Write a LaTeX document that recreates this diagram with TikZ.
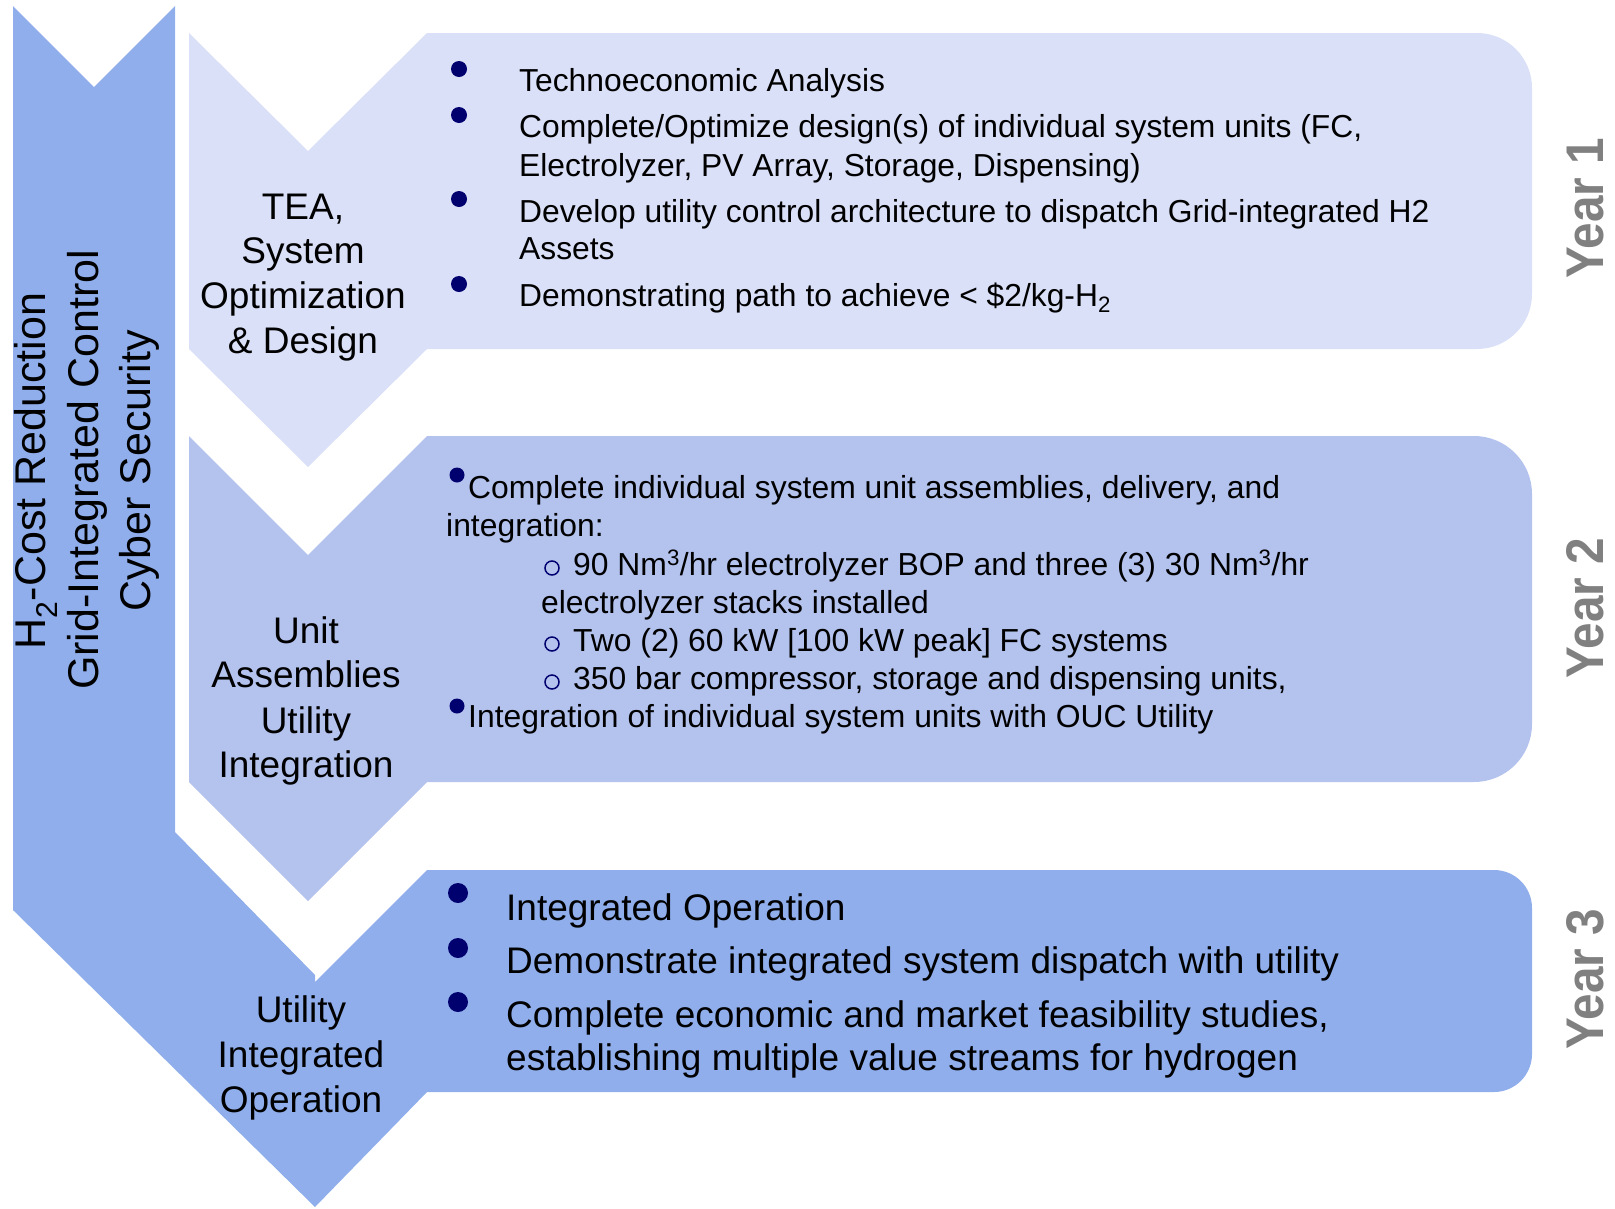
\documentclass[tikz,border=0pt]{standalone}
\usepackage{fontspec}
\setmainfont{Liberation Sans}
\newfontfamily\yearfont[FakeStretch=0.9]{Liberation Sans}
\definecolor{cone}{RGB}{218,224,247}
\definecolor{ctwo}{RGB}{180,195,238}
\definecolor{cthree}{RGB}{143,174,235}
\definecolor{navy}{RGB}{0,0,110}
\definecolor{yeargray}{RGB}{128,128,128}
\begin{document}
\begin{tikzpicture}[x=1pt,y=-1pt,
  lbl/.style={font={\fontsize{37}{44}\selectfont}, anchor=base, inner sep=0pt},
  side/.style={font={\fontsize{43}{52}\selectfont}, anchor=base, rotate=90, inner sep=0pt},
  yr/.style={font={\yearfont\bfseries\fontsize{53}{60}\selectfont}, text=yeargray, anchor=base, rotate=90, inner sep=0pt},
  ta/.style={font={\fontsize{31.8}{39}\selectfont}, anchor=base west, inner sep=0pt},
  tb/.style={font={\fontsize{31.85}{38}\selectfont}, anchor=base west, inner sep=0pt},
  tc/.style={font={\fontsize{37}{44}\selectfont}, anchor=base west, inner sep=0pt},
  bulletdot/.style={circle, fill=navy, inner sep=0pt, minimum size=#1},
  ring/.style={circle, draw=navy, line width=1.5pt, inner sep=0pt, minimum size=14pt}
]
\useasboundingbox (0,0) rectangle (1615,1208);

% Year 1 chevron + box
\fill[cone] (189,33) -- (308,151) -- (427,33) -- (1477,33)
  arc[start angle=-90,end angle=0,radius=55] -- (1532,294)
  arc[start angle=0,end angle=90,radius=55] -- (427,349) -- (308,467) -- (189,349) -- cycle;
% Year 2 chevron + box
\fill[ctwo] (189,436) -- (308,555) -- (427,436) -- (1474,436)
  arc[start angle=-90,end angle=0,radius=58] -- (1532,724)
  arc[start angle=0,end angle=90,radius=58] -- (427,782) -- (308,901) -- (189,782) -- cycle;
% Big bar + Year 3 chevron + box
\fill[cthree] (13,6) -- (94,87) -- (175,6) -- (175,832) -- (315,975) -- (315,982) -- (427,870) -- (1494,870)
  arc[start angle=-90,end angle=0,radius=38] -- (1532,1054)
  arc[start angle=0,end angle=90,radius=38] -- (427,1092) -- (315,1207) -- (13,910) -- cycle;

% Side text
\node[side] (s1) at (45,471) {H\textsubscript{2}-Cost Reduction};
\node[side] (s2) at (98,470) {Grid-Integrated Control};
\node[side] (s3) at (150,471) {Cyber Security};

% Chevron labels
\node[lbl] (l1a) at (303,219) {TEA,};
\node[lbl] (l1b) at (303,263) {System};
\node[lbl] (l1c) at (303,308) {Optimization};
\node[lbl] (l1d) at (303,353) {\& Design};

\node[lbl] (l2a) at (306,643) {Unit};
\node[lbl] (l2b) at (306,687) {Assemblies};
\node[lbl] (l2c) at (306,733) {Utility};
\node[lbl] (l2d) at (306,777) {Integration};

\node[lbl] (l3a) at (301,1022) {Utility};
\node[lbl] (l3b) at (301,1067) {Integrated};
\node[lbl] (l3c) at (301,1112) {Operation};

% Year labels
\node[yr] (y1) at (1603,208) {Year 1};
\node[yr] (y2) at (1603,608) {Year 2};
\node[yr] (y3) at (1603,979) {Year 3};

% Year 1 bullets
\node[bulletdot=16pt] (b1a) at (459,69) {};
\node[bulletdot=16pt] (b1b) at (459,115) {};
\node[bulletdot=16pt] (b1c) at (459,199) {};
\node[bulletdot=16pt] (b1d) at (459,284) {};
\node[ta] (t1a) at (519,91) {Technoeconomic Analysis};
\node[ta] (t1b) at (519,137) {Complete/Optimize design(s) of individual system units (FC,};
\node[ta] (t1c) at (519,176) {Electrolyzer, PV Array, Storage, Dispensing)};
\node[ta] (t1d) at (519,222) {Develop utility control architecture to dispatch Grid-integrated H2};
\node[ta] (t1e) at (519,259) {Assets};
\node[ta] (t1f) at (519,306) {Demonstrating path to achieve < \$2/kg-H\textsubscript{2}};

% Year 2 bullets
\node[bulletdot=15pt] (b2a) at (457,475) {};
\node[bulletdot=15pt] (b2b) at (457,706) {};
\node[ring] (r2a) at (552,568) {};
\node[ring] (r2b) at (552,644) {};
\node[ring] (r2c) at (552,682) {};
\node[tb] (t2a) at (468,498) {Complete individual system unit assemblies, delivery, and};
\node[tb] (t2b) at (446,536) {integration:};
\node[tb] (t2c) at (573,575) {90 Nm\textsuperscript{3}/hr electrolyzer BOP and three (3) 30 Nm\textsuperscript{3}/hr};
\node[tb] (t2d) at (541,613) {electrolyzer stacks installed};
\node[tb] (t2e) at (573,651) {Two (2) 60 kW [100 kW peak] FC systems};
\node[tb] (t2f) at (573,689) {350 bar compressor, storage and dispensing units,};
\node[tb] (t2g) at (468,727) {Integration of individual system units with OUC Utility};

% Year 3 bullets
\node[bulletdot=20pt] (b3a) at (458,893) {};
\node[bulletdot=20pt] (b3b) at (458,948) {};
\node[bulletdot=20pt] (b3c) at (458,1002) {};
\node[tc] (t3a) at (506,920) {Integrated Operation};
\node[tc] (t3b) at (506,973) {Demonstrate integrated system dispatch with utility};
\node[tc] (t3c) at (506,1027) {Complete economic and market feasibility studies,};
\node[tc] (t3d) at (506,1070) {establishing multiple value streams for hydrogen};
\end{tikzpicture}
\end{document}
